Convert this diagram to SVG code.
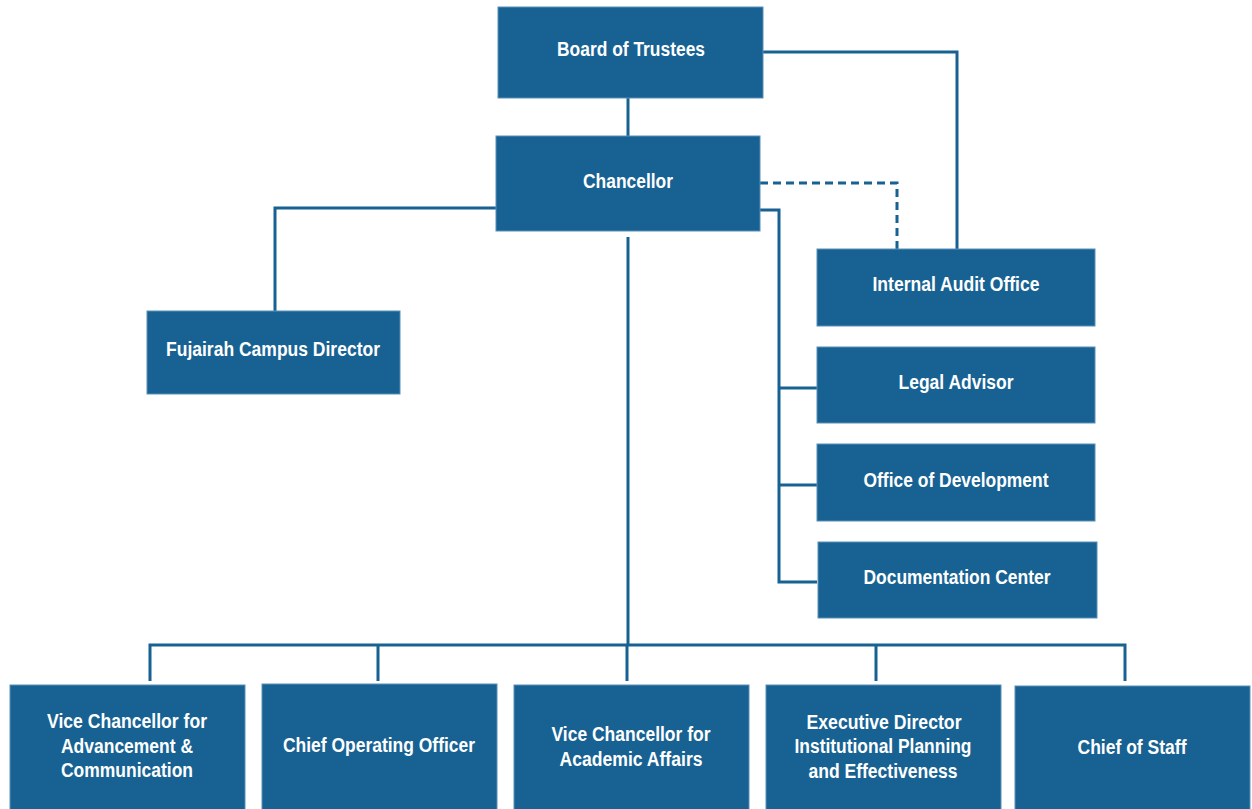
<svg xmlns="http://www.w3.org/2000/svg" width="1252" height="809" viewBox="0 0 1252 809">
<style>
.box{fill:#176292;stroke:#5b8fb8;stroke-width:1}
.t{font-family:"Liberation Sans Narrow","Liberation Sans",Arial,sans-serif;font-weight:bold;font-size:20px;fill:#ffffff;text-anchor:middle}
.ln{stroke:#176292;stroke-width:3;fill:none}
.dash{stroke:#176292;stroke-width:3;fill:none;stroke-dasharray:8 5}
</style>
<rect width="1252" height="809" fill="#ffffff"/>
<g id="connectors">
<path class="ln" d="M628 98V136"/>
<path class="ln" d="M763 52H957V249"/>
<path class="dash" d="M760 183H897V249"/>
<path class="ln" d="M760 210H779V582H817"/>
<path class="ln" d="M779 388H817M779 485H817"/>
<path class="ln" d="M496 208H275V311"/>
<path class="ln" d="M628 237V645"/>
<path class="ln" d="M150 681V645H1125V681"/>
<path class="ln" d="M378 645V681M627 645V681M876 645V681"/>
</g>
<g id="board"><rect class="box" x="498" y="7" width="265" height="91"/><text class="t" x="631" y="56" textLength="148" lengthAdjust="spacingAndGlyphs">Board of Trustees</text></g>
<g id="chancellor"><rect class="box" x="496" y="136" width="264" height="95"/><text class="t" x="628" y="188" textLength="90" lengthAdjust="spacingAndGlyphs">Chancellor</text></g>
<g id="audit"><rect class="box" x="817" y="249" width="278" height="77"/><text class="t" x="956" y="291" textLength="167" lengthAdjust="spacingAndGlyphs">Internal Audit Office</text></g>
<g id="legal"><rect class="box" x="817" y="347" width="278" height="76"/><text class="t" x="956" y="389" textLength="115" lengthAdjust="spacingAndGlyphs">Legal Advisor</text></g>
<g id="development"><rect class="box" x="817" y="444" width="278" height="77"/><text class="t" x="956" y="487" textLength="185" lengthAdjust="spacingAndGlyphs">Office of Development</text></g>
<g id="documentation"><rect class="box" x="818" y="542" width="279" height="76"/><text class="t" x="957" y="584" textLength="187" lengthAdjust="spacingAndGlyphs">Documentation Center</text></g>
<g id="fujairah"><rect class="box" x="147" y="311" width="253" height="83"/><text class="t" x="273" y="356" textLength="214" lengthAdjust="spacingAndGlyphs">Fujairah Campus Director</text></g>
<g id="vc-advancement"><rect class="box" x="10" y="685" width="235" height="130"/><text class="t" x="127" y="728" textLength="160" lengthAdjust="spacingAndGlyphs">Vice Chancellor for</text><text class="t" x="127" y="753" textLength="132" lengthAdjust="spacingAndGlyphs">Advancement &amp;</text><text class="t" x="127" y="777" textLength="132" lengthAdjust="spacingAndGlyphs">Communication</text></g>
<g id="coo"><rect class="box" x="262" y="684" width="235" height="131"/><text class="t" x="379" y="752" textLength="192" lengthAdjust="spacingAndGlyphs">Chief Operating Officer</text></g>
<g id="vc-academic"><rect class="box" x="514" y="685" width="235" height="130"/><text class="t" x="631" y="741" textLength="159" lengthAdjust="spacingAndGlyphs">Vice Chancellor for</text><text class="t" x="631" y="766" textLength="143" lengthAdjust="spacingAndGlyphs">Academic Affairs</text></g>
<g id="exec-director"><rect class="box" x="766" y="685" width="235" height="130"/><text class="t" x="884" y="729" textLength="155" lengthAdjust="spacingAndGlyphs">Executive Director</text><text class="t" x="883" y="753" textLength="177" lengthAdjust="spacingAndGlyphs">Institutional Planning</text><text class="t" x="883" y="778" textLength="149" lengthAdjust="spacingAndGlyphs">and Effectiveness</text></g>
<g id="chief-staff"><rect class="box" x="1015" y="686" width="235" height="129"/><text class="t" x="1132" y="754" textLength="109" lengthAdjust="spacingAndGlyphs">Chief of Staff</text></g>
</svg>
